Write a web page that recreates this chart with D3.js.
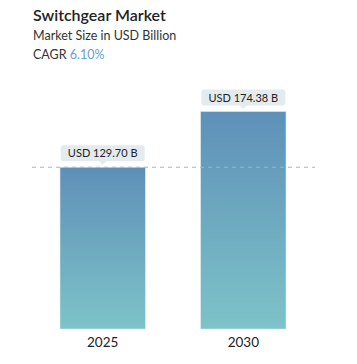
<!DOCTYPE html>
<html><head><meta charset="utf-8">
<script src="https://cdn.jsdelivr.net/npm/d3@7"></script>
<style>body{margin:0;background:#fff;} svg{display:block;}</style>
</head><body>
<script>
const title = "Switchgear Market";
const subtitle = "Market Size in USD Billion";
const cagr = "6.10%";
const years = ["2025", "2030"];
const values = [129.70, 174.38];
const valueLabels = ["USD 129.70 B", "USD 174.38 B"];

const W = 357, H = 364;
const svg = d3.select("body").append("svg").attr("width", W).attr("height", H);
const font = "Lato, 'Open Sans', sans-serif";

const defs = svg.append("defs");
const g = defs.append("linearGradient").attr("id", "bg").attr("x1", 0).attr("y1", 0).attr("x2", 0).attr("y2", 1);
g.append("stop").attr("offset", "0%").attr("stop-color", "#5e90b8");
g.append("stop").attr("offset", "100%").attr("stop-color", "#7dc3c8");

const x = d3.scaleBand().domain(years).range([60, 286]).paddingInner(0.393).paddingOuter(0);
const y = d3.scaleLinear().domain([0, 174.38]).range([329, 111.5]);

svg.append("text").attr("x", 33).attr("y", 21).attr("font-family", font).attr("font-size", 16)
  .attr("font-weight", 600).attr("fill", "#222").text(title);
svg.append("text").attr("x", 33).attr("y", 40).attr("font-family", font).attr("font-size", 12.5)
  .attr("fill", "#333").text(subtitle);
const c = svg.append("text").attr("x", 33).attr("y", 59).attr("font-family", font).attr("font-size", 12.5).attr("fill", "#333");
c.append("tspan").text("CAGR ");
c.append("tspan").attr("fill", "#6a9fcb").text(cagr);

svg.selectAll("rect.bar").data(values).enter().append("rect").attr("class", "bar")
  .attr("x", (d, i) => x(years[i])).attr("width", x.bandwidth())
  .attr("y", d => y(d)).attr("height", d => y(0) - y(d))
  .attr("fill", "url(#bg)").attr("stroke", "#d8ecef").attr("stroke-width", 0.6);

svg.append("line").attr("x1", 32).attr("x2", 315).attr("y1", y(values[0])).attr("y2", y(values[0]))
  .attr("stroke", "#9db8cc").attr("stroke-width", 1).attr("stroke-dasharray", "4,4");

values.forEach((v, i) => {
  const cx = x(years[i]) + x.bandwidth() / 2;
  const top = y(v);
  const bw = 84, bh = 16;
  const gg = svg.append("g");
  gg.append("rect").attr("x", cx - bw / 2).attr("y", top - 22).attr("width", bw).attr("height", bh)
    .attr("rx", 3).attr("fill", "#e3ebee");
  gg.append("path").attr("d", `M${cx - 4},${top - 6.5} L${cx},${top - 2.5} L${cx + 4},${top - 6.5} Z`).attr("fill", "#e3ebee");
  gg.append("text").attr("x", cx).attr("y", top - 10).attr("text-anchor", "middle")
    .attr("font-family", font).attr("font-size", 11).attr("fill", "#222").text(valueLabels[i]);
  svg.append("text").attr("x", cx).attr("y", 347).attr("text-anchor", "middle")
    .attr("font-family", font).attr("font-size", 13.5).attr("fill", "#222").text(years[i]);
});
</script>
</body></html>
